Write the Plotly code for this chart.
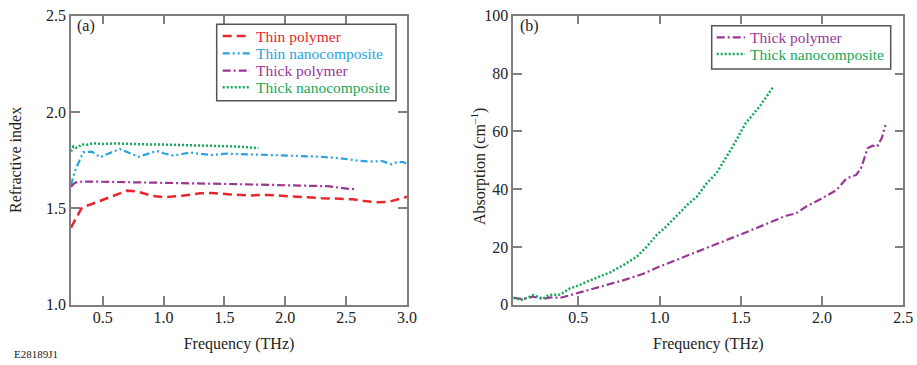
import plotly.graph_objects as go

W, H = 917, 365

# ---------- Panel (a): refractive index ----------
thin_poly_f = [0.24, 0.28, 0.33, 0.40, 0.50, 0.60, 0.70, 0.78, 0.90, 1.00, 1.15, 1.30, 1.40, 1.55,
               1.70, 1.85, 2.00, 2.15, 2.30, 2.45, 2.55, 2.65, 2.75, 2.85, 2.92, 3.00]
thin_poly_n = [1.40, 1.45, 1.505, 1.52, 1.544, 1.572, 1.592, 1.588, 1.566, 1.558, 1.565, 1.578, 1.580, 1.572,
               1.567, 1.570, 1.564, 1.558, 1.553, 1.550, 1.547, 1.538, 1.532, 1.534, 1.545, 1.560]

thin_nano_f = [0.24, 0.27, 0.30, 0.34, 0.41, 0.48, 0.55, 0.64, 0.71, 0.795, 0.87, 0.946, 1.00, 1.08, 1.15,
               1.22, 1.30, 1.39, 1.52, 1.73, 2.02, 2.29, 2.45, 2.62, 2.72, 2.80, 2.87, 2.92, 2.97, 3.00]
thin_nano_n = [1.62, 1.69, 1.734, 1.791, 1.795, 1.765, 1.785, 1.808, 1.790, 1.768, 1.783, 1.798, 1.786, 1.774, 1.782,
               1.790, 1.783, 1.777, 1.784, 1.781, 1.774, 1.768, 1.760, 1.746, 1.743, 1.745, 1.729, 1.741, 1.740, 1.730]

thick_poly_f = [0.24, 0.27, 0.30, 0.40, 0.60, 0.80, 1.00, 1.20, 1.50, 1.80, 2.00, 2.20, 2.35, 2.45, 2.52, 2.58]
thick_poly_n = [1.612, 1.632, 1.638, 1.639, 1.637, 1.634, 1.632, 1.630, 1.627, 1.623, 1.620, 1.618, 1.615, 1.607, 1.601, 1.600]

thick_nano_f = [0.24, 0.26, 0.28, 0.30, 0.33, 0.37, 0.42, 0.50, 0.60, 0.70, 0.85, 1.00, 1.20, 1.40, 1.55,
                1.65, 1.72, 1.78]
thick_nano_n = [1.795, 1.822, 1.814, 1.818, 1.832, 1.830, 1.838, 1.834, 1.837, 1.834, 1.832, 1.831, 1.829, 1.826, 1.822,
                1.819, 1.815, 1.812]

# ---------- Panel (b): absorption ----------
abs_poly_f = [0.10, 0.16, 0.22, 0.28, 0.33, 0.39, 0.45, 0.49, 0.60, 0.70, 0.78, 0.90, 1.00, 1.10, 1.21, 1.30,
              1.40, 1.49, 1.60, 1.72, 1.78, 1.84, 1.90, 1.98, 2.04, 2.09, 2.15, 2.21, 2.24, 2.28, 2.31, 2.34,
              2.37, 2.39]
abs_poly_v = [2.4, 1.9, 2.8, 2.0, 2.5, 2.4, 3.3, 3.9, 5.8, 7.2, 8.5, 10.7, 13.2, 15.4, 17.8, 19.8,
              22.0, 24.1, 26.6, 29.3, 30.8, 31.6, 33.9, 36.2, 38.2, 39.7, 43.7, 44.9, 47.2, 54.1, 55.0, 54.7,
              58.0, 62.2]

abs_nano_f = [0.10, 0.15, 0.19, 0.22, 0.26, 0.28, 0.32, 0.36, 0.39, 0.45, 0.49, 0.53, 0.60, 0.65, 0.70,
              0.78, 0.86, 0.92, 0.98, 1.04, 1.10, 1.17, 1.23, 1.29, 1.35, 1.40, 1.45, 1.53, 1.62, 1.70]
abs_nano_v = [2.4, 1.7, 2.5, 3.3, 2.6, 2.0, 3.4, 3.6, 3.5, 5.7, 6.4, 7.4, 9.0, 10.3, 11.3,
              13.8, 16.6, 20.0, 24.0, 27.0, 30.5, 34.5, 37.4, 42.0, 45.5, 50.0, 54.7, 62.8, 68.9, 75.4]

names_a = ["Thin polymer", "Thin nanocomposite", "Thick polymer", "Thick nanocomposite"]
names_b = ["Thick polymer", "Thick nanocomposite"]

RED, BLUE, PURPLE, GREEN = "#e8262e", "#2aa3de", "#9b3596", "#16a85a"
STYLE = {
    "Thin polymer": dict(color=RED, width=2.5, dash="9px,5px"),
    "Thin nanocomposite": dict(color=BLUE, width=2.2, dash="7px,3px,2px,3px,2px,3px"),
    "Thick polymer": dict(color=PURPLE, width=2.2, dash="8px,3px,2px,3px"),
    "Thick nanocomposite": dict(color=GREEN, width=2.5, dash="2px,2px"),
}
FONT = "Liberation Serif"
FS = 16
LFS = 15.5
AX = "#7f7f7f"
TXT = "#222"

fig = go.Figure()

series_a = [(thin_poly_f, thin_poly_n), (thin_nano_f, thin_nano_n),
            (thick_poly_f, thick_poly_n), (thick_nano_f, thick_nano_n)]
for name, (xs, ys) in zip(names_a, series_a):
    fig.add_trace(go.Scatter(x=xs, y=ys, mode="lines", name=name, line=STYLE[name],
                             xaxis="x", yaxis="y", showlegend=False))

series_b = [(abs_poly_f, abs_poly_v), (abs_nano_f, abs_nano_v)]
for name, (xs, ys) in zip(names_b, series_b):
    fig.add_trace(go.Scatter(x=xs, y=ys, mode="lines", name=name, line=STYLE[name],
                             xaxis="x2", yaxis="y2", showlegend=False))

axis_common = dict(showline=True, linecolor=AX, linewidth=1.5, mirror="ticks", ticks="inside", ticklen=9,
                   tickcolor=AX, tickwidth=1.5, showgrid=False, zeroline=False,
                   tickfont=dict(family=FONT, size=FS, color=TXT))

ybot = 1 - 304.7 / H
ytop = 1 - 15.7 / H

# ----- hand-made legends (box, line samples, coloured labels) -----
shapes, annotations = [], []


def add_legend(names, box, row_y, sample_x, text_x):
    x0, y0, x1, y1 = box
    shapes.append(dict(type="rect", xref="paper", yref="paper", x0=x0 / W, x1=x1 / W,
                       y0=1 - y1 / H, y1=1 - y0 / H, line=dict(color="#555", width=1.5),
                       fillcolor="white", layer="above"))
    for name, ry in zip(names, row_y):
        st = STYLE[name]
        shapes.append(dict(type="line", xref="paper", yref="paper", x0=sample_x[0] / W, x1=sample_x[1] / W,
                           y0=1 - ry / H, y1=1 - ry / H, layer="above",
                           line=dict(color=st["color"], width=st["width"], dash=st["dash"])))
        annotations.append(dict(text=name, x=text_x / W, y=1 - ry / H, xref="paper", yref="paper",
                                xanchor="left", yanchor="middle", showarrow=False,
                                font=dict(family=FONT, size=LFS, color=st["color"])))


add_legend(names_a, (216.7, 24.3, 396, 100.7), [36, 53.3, 70.7, 87.3], (222.7, 250), 253.5)
add_legend(names_b, (711.7, 25.7, 890.7, 69), [37.3, 54], (716.7, 745), 748)


def text(t, x, y, size=FS, angle=0, xanchor="center"):
    return dict(text=t, x=x / W, y=1 - y / H, xref="paper", yref="paper", xanchor=xanchor,
                yanchor="middle", showarrow=False, textangle=angle,
                font=dict(family=FONT, size=size, color=TXT))


annotations += [
    text("(a)", 75, 26, xanchor="left"),
    text("(b)", 518, 26, xanchor="left"),
    text("E28189J1", 12, 354, size=11, xanchor="left"),
    text("Refractive index", 15, 160, angle=-90),
    text("Absorption (cm<sup>–1</sup>)", 478, 166, angle=-90),
]

fig.update_layout(
    width=W, height=H, margin=dict(l=0, r=0, t=0, b=0),
    paper_bgcolor="white", plot_bgcolor="white",
    font=dict(family=FONT, size=FS, color=TXT),
    showlegend=False,
    xaxis=dict(domain=[71 / W, 407 / W], range=[0.24, 3.0], dtick=0.5, tick0=0, tickformat=".1f",
               title=dict(text="Frequency (THz)", font=dict(family=FONT, size=FS, color=TXT), standoff=13),
               ticklabelstandoff=-3,
               anchor="y", automargin=False, **axis_common),
    yaxis=dict(domain=[ybot, ytop], range=[1.0, 2.5], dtick=0.5, tick0=0, tickformat=".1f",
               anchor="x", automargin=False, **axis_common),
    xaxis2=dict(domain=[513.3 / W, 903.3 / W], range=[0.1, 2.5], dtick=0.5, tick0=0, tickformat=".1f",
                title=dict(text="Frequency (THz)", font=dict(family=FONT, size=FS, color=TXT), standoff=13),
                ticklabelstandoff=-3,
                anchor="y2", automargin=False, **axis_common),
    yaxis2=dict(domain=[ybot, ytop], range=[0, 100], dtick=20, tick0=0,
                anchor="x2", automargin=False, **axis_common),
    shapes=shapes,
    annotations=annotations,
)

fig.write_html("out.html")
